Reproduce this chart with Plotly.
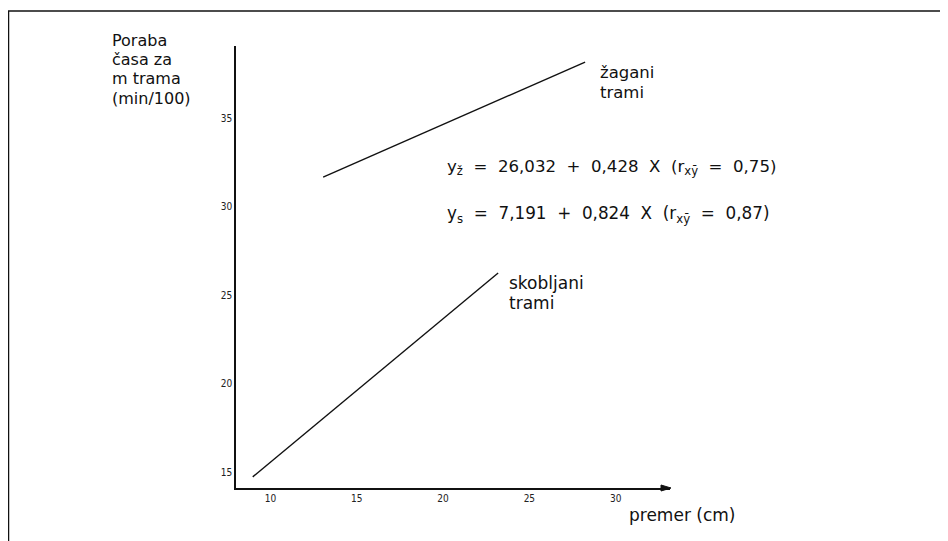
import plotly.graph_objects as go

# Data
x_ticks = [10, 15, 20, 25, 30]
y_ticks = [15, 20, 25, 30, 35]
zagani_x = [13.05, 28.23]
zagani_y = [31.68, 38.19]
skobljani_x = [8.97, 23.19]
skobljani_y = [14.73, 26.26]

# the page body has an 8px margin, so the figure starts at screen (8, 8)
OFF = 8
W, H = 940, 533
def px(x):
    return (x - OFF) / W
def py(y):
    return 1 - (y - OFF) / H

FONT = "DejaVu Sans, Verdana, sans-serif"

fig = go.Figure()
fig.add_trace(go.Scatter(x=zagani_x, y=zagani_y, mode="lines",
                         line=dict(color="#111", width=1.4), hoverinfo="skip"))
fig.add_trace(go.Scatter(x=skobljani_x, y=skobljani_y, mode="lines",
                         line=dict(color="#111", width=1.4), hoverinfo="skip"))

x_range = [8.0, 33.15]
y_range = [14.1, 39.1]

tickfont = dict(family="DejaVu Sans Condensed", size=10, color="#222")
fig.update_layout(
    width=W, height=H,
    margin=dict(l=0, r=0, t=0, b=0),
    paper_bgcolor="white", plot_bgcolor="white",
    showlegend=False,
    xaxis=dict(domain=[px(236), px(670)], range=x_range, tickvals=x_ticks,
               ticktext=[str(v) for v in x_ticks], showgrid=False, zeroline=False,
               showline=True, linecolor="#111", linewidth=1.5, ticks="",
               tickfont=tickfont),
    yaxis=dict(domain=[py(488), py(46)], range=y_range, tickvals=y_ticks,
               ticktext=[str(v) for v in y_ticks], showgrid=False, zeroline=False,
               showline=True, linecolor="#111", linewidth=1.5, ticks="",
               tickfont=tickfont),
)

# page frame lines (scan border)
fig.add_shape(type="line", xref="paper", yref="paper", x0=px(8), x1=1, y0=py(11), y1=py(11),
              line=dict(color="#111", width=1.5))
fig.add_shape(type="line", xref="paper", yref="paper", x0=px(8.5), x1=px(8.5), y0=py(11), y1=0,
              line=dict(color="#111", width=1.5))

# x-axis arrowhead
fig.add_shape(type="path", xref="paper", yref="paper",
              path=f"M {px(661)} {py(485)} L {px(671)} {py(488)} L {px(661)} {py(491)} Z",
              fillcolor="#111", line=dict(color="#111", width=1))

def note(text, x, y, size=17):
    fig.add_annotation(text=text, xref="paper", yref="paper", x=px(x), y=py(y),
                       xanchor="left", yanchor="middle", showarrow=False, align="left",
                       font=dict(family=FONT, size=size, color="#111"))

for t, yy in zip(["Poraba", "časa za", "m trama", "(min/100)"], [41, 60, 79, 98]):
    note(t, 110, yy, size=16)
note("žagani", 598, 72, size=16.5)
note("trami", 598, 92, size=16.5)
note("skobljani", 507, 283)
note("trami", 507, 303)
note("y<sub>ž</sub>  =  26,032  +  0,428  X  (r<sub>xȳ</sub>  =  0,75)", 445, 167, size=16.6)
note("y<sub>s</sub>  =  7,191  +  0,824  X  (r<sub>xȳ</sub>  =  0,87)", 445, 214, size=16.8)
note("premer (cm)", 627, 515)

fig.write_html("out.html")
